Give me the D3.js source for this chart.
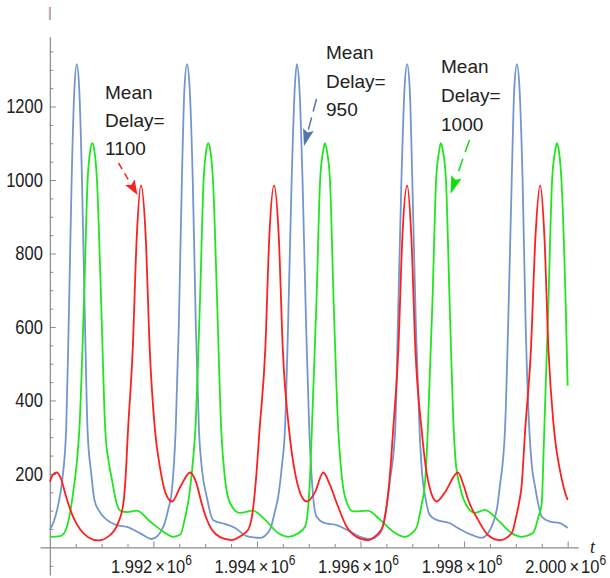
<!DOCTYPE html>
<html>
<head>
<meta charset="utf-8">
<script src="https://cdn.jsdelivr.net/npm/d3@7"></script>
<style>
    body { margin: 0; background: #fff; }
    svg { display: block; font-family: "Liberation Sans", Arial, sans-serif; }
</style>
</head>
<body>
<div id="chart"></div>
<script>
// values: [t, value]
const delay950 = [
    [1990000,48],[1990080,72],[1990160,115],[1990240,184],[1990315,320],[1990363,600],[1990421,1000],[1990475,1250],[1990520,1315],
    [1990567,1250],[1990621,1000],[1990680,600],[1990728,320],[1990800,200],[1990860,130],[1990940,102],[1991100,75],[1991290,61],
    [1991490,56],[1991740,39],[1991970,23],
    [1992190,56],[1992280,100],[1992360,160],[1992430,320],[1992490,600],[1992550,1000],[1992600,1250],[1992650,1315],[1992700,1250],
    [1992760,1000],[1992820,600],[1992880,320],[1992940,210],[1993030,138],[1993150,75],[1993380,64],[1993580,53],[1993800,31],[1994060,26],
    [1994250,48],[1994350,100],[1994410,138],[1994480,220],[1994540,320],[1994600,600],[1994670,1000],[1994730,1250],[1994770,1315],
    [1994820,1250],[1994880,1000],[1994950,600],[1995010,320],[1995060,184],[1995150,84],[1995310,66],[1995540,61],[1995800,43],
    [1995990,29],[1996180,23],
    [1996380,39],[1996490,100],[1996570,184],[1996670,320],[1996720,600],[1996790,1000],[1996850,1250],[1996900,1315],[1996950,1250],
    [1997000,1000],[1997070,600],[1997140,320],[1997190,200],[1997250,138],[1997340,88],[1997470,75],[1997730,66],[1997880,53],
    [1998150,34],[1998340,26],
    [1998560,66],[1998640,110],[1998690,166],[1998790,320],[1998850,600],[1998920,1000],[1998970,1250],[1999020,1315],[1999070,1250],
    [1999130,1000],[1999190,600],[1999260,320],[1999310,220],[1999370,166],[1999500,84],[1999660,70],[1999850,66],[2000000,53]
];

const delay1000 = [
    [1990000,29],[1990200,31],[1990300,45],[1990390,94],[1990460,160],[1990520,230],[1990570,320],[1990660,673],[1990730,1000],
    [1990780,1080],[1990820,1100],[1990860,1080],[1990910,1000],[1990990,673],[1991070,320],[1991140,230],[1991200,184],[1991280,125],
    [1991360,100],[1991490,96],[1991680,100],[1991940,70],[1992190,43],[1992380,29],
    [1992520,35],[1992610,80],[1992690,140],[1992760,230],[1992810,320],[1992900,673],[1992970,1000],[1993020,1080],[1993060,1100],
    [1993100,1080],[1993150,1000],[1993230,673],[1993310,320],[1993380,190],[1993480,121],[1993670,94],[1993920,100],[1994160,75],
    [1994410,39],[1994600,29],
    [1994790,38],[1994930,57],[1995010,150],[1995060,320],[1995150,673],[1995220,1000],[1995280,1080],[1995310,1100],[1995350,1080],
    [1995410,1000],[1995480,673],[1995570,320],[1995620,220],[1995700,138],[1995860,98],[1996140,100],[1996380,75],[1996630,43],
    [1996860,29],
    [1996990,38],[1997090,57],[1997170,110],[1997250,184],[1997300,320],[1997390,673],[1997460,1000],[1997520,1080],[1997550,1100],
    [1997590,1080],[1997650,1000],[1997720,673],[1997800,320],[1997840,230],[1997920,166],[1998080,107],[1998210,94],[1998400,102],
    [1998650,75],[1998920,39],[1999110,29],
    [1999330,39],[1999430,80],[1999500,121],[1999540,280],[1999630,673],[1999700,1000],[1999760,1080],[1999790,1100],[1999830,1080],
    [1999880,1000],[1999960,673],[2000000,440]
];

const delay1100 = [
    [1990000,179],[1990060,198],[1990140,204],[1990220,185],[1990310,140],[1990450,83],[1990580,50],[1990740,28],[1990940,19],
    [1991130,30],[1991320,67],[1991420,120],[1991460,184],[1991510,320],[1991600,537],[1991680,850],[1991760,985],[1991850,850],
    [1991930,537],[1992030,320],[1992130,215],[1992230,150],[1992360,125],[1992520,165],[1992710,204],[1992830,175],[1992930,121],
    [1993020,80],[1993130,48],[1993290,28],[1993510,20],[1993670,30],[1993830,48],[1993920,100],[1993980,184],[1994050,320],
    [1994160,537],[1994240,850],[1994330,985],[1994420,850],[1994500,537],[1994620,320],[1994740,200],[1994830,150],[1994960,125],
    [1995120,150],[1995280,204],[1995410,170],[1995540,121],[1995730,57],[1995910,30],[1996140,20],[1996300,32],[1996430,57],
    [1996510,120],[1996560,184],[1996630,320],[1996730,537],[1996810,850],[1996900,985],[1996980,850],[1997060,537],[1997180,320],
    [1997280,200],[1997360,150],[1997470,125],[1997630,150],[1997880,204],[1998000,165],[1998080,129],[1998270,75],[1998460,34],
    [1998690,20],[1998920,39],[1999000,80],[1999060,120],[1999110,166],[1999180,320],[1999290,537],[1999380,850],[1999470,985],
    [1999550,850],[1999630,537],[1999720,347],[1999770,280],[1999850,211],[1999930,160],[2000000,129]
];

const yMajorTicks = [200, 400, 600, 800, 1000, 1200];
const yMinorTicks = [-50, 50, 100, 150, 250, 300, 350, 450, 500, 550, 650, 700, 750, 850, 900, 950, 1050, 1100, 1150, 1250, 1300, 1350];
const xMajorTicks = [1992000, 1994000, 1996000, 1998000, 2000000];
const xMajorLabels = ["1.992", "1.994", "1.996", "1.998", "2.000"];
const xMinorTicks = [1990500, 1991000, 1991500, 1992500, 1993000, 1993500, 1994500, 1995000, 1995500,
    1996500, 1997000, 1997500, 1998500, 1999000, 1999500];
const annotationText = [["Mean", "Delay=", "1100"], ["Mean", "Delay=", "950"], ["Mean", "Delay=", "1000"]];

class DelayChart {
    constructor(parentElement) {
        this.parentElement = parentElement;
        this.series = [
            {values: delay950, color: "#7596cd"},
            {values: delay1000, color: "#1fe61f"},
            {values: delay1100, color: "#ff1f1f"}
        ];
        this.initVis();
    }

    initVis() {
        let vis = this;
        vis.width = 610;
        vis.height = 578;

        vis.svg = d3.select("#" + vis.parentElement).append("svg")
            .attr("width", vis.width)
            .attr("height", vis.height);

        // axis ranges run a bit past the data, like the original
        vis.x = d3.scaleLinear().domain([1989810, 2000200]).range([40, 578]);
        vis.y = d3.scaleLinear().domain([-75, 1390]).range([575, 36.7]);

        let axisColor = "#8a8a8a";

        // y axis
        vis.svg.append("g")
            .attr("transform", `translate(${vis.x(1990000)},0)`)
            .call(d3.axisLeft(vis.y).tickValues(yMinorTicks).tickSize(-3.5).tickFormat(""))
            .call(g => g.select(".domain").remove())
            .call(g => g.selectAll("line").attr("stroke", axisColor));

        vis.yAxis = vis.svg.append("g")
            .attr("transform", `translate(${vis.x(1990000)},0)`)
            .call(d3.axisLeft(vis.y).tickValues(yMajorTicks).tickFormat(d3.format("d"))
                .tickSize(-6).tickSizeOuter(0).tickPadding(7));
        vis.yAxis.select(".domain").attr("stroke", axisColor).attr("stroke-width", 1.2);
        vis.yAxis.selectAll("line").attr("stroke", axisColor);
        vis.yAxis.selectAll("text")
            .attr("font-family", "Liberation Sans, Arial, sans-serif")
            .attr("font-size", 16.5)
            .attr("fill", "#222")
            .attr("transform", "scale(1,1.17)");

        // x axis
        vis.svg.append("g")
            .attr("transform", `translate(0,${vis.y(0)})`)
            .call(d3.axisBottom(vis.x).tickValues(xMinorTicks).tickSize(-3.5).tickFormat(""))
            .call(g => g.select(".domain").remove())
            .call(g => g.selectAll("line").attr("stroke", axisColor));

        vis.xAxis = vis.svg.append("g")
            .attr("transform", `translate(0,${vis.y(0)})`)
            .call(d3.axisBottom(vis.x).tickValues(xMajorTicks).tickSize(-6).tickSizeOuter(0).tickFormat(""));
        vis.xAxis.select(".domain").attr("stroke", axisColor).attr("stroke-width", 1.2);
        vis.xAxis.selectAll("line").attr("stroke", axisColor);

        let xLabels = vis.svg.append("g").selectAll("g")
            .data(xMajorTicks)
            .enter().append("g")
            .attr("transform", d => `translate(${vis.x(d) - 2},${vis.y(0) + 25.5}) scale(1,1.15)`)
            .append("text")
            .attr("text-anchor", "middle")
            .attr("font-size", 16.5)
            .attr("fill", "#222");
        xLabels.append("tspan").text((d, i) => xMajorLabels[i]);
        xLabels.append("tspan").attr("dx", 3).text("\u00d7");
        xLabels.append("tspan").attr("dx", 2).text("10");
        xLabels.append("tspan").attr("dy", -7).attr("font-size", 12).text("6");

        vis.svg.append("text")
            .attr("x", 590)
            .attr("y", 553)
            .attr("font-size", 18)
            .attr("font-style", "italic")
            .attr("font-family", "Liberation Serif, serif")
            .attr("fill", "#222")
            .text("t");

        // little mark sitting above the y axis
        vis.svg.append("line").attr("x1", 49.3).attr("x2", 49.3).attr("y1", 7).attr("y2", 20)
            .attr("stroke", "#e0a070").attr("stroke-width", 1);
        vis.svg.append("line").attr("x1", 50.4).attr("x2", 50.4).attr("y1", 7).attr("y2", 20)
            .attr("stroke", "#8fa0d0").attr("stroke-width", 1);

        vis.line = d3.line()
            .x(d => vis.x(d[0]))
            .y(d => vis.y(d[1]))
            .curve(d3.curveMonotoneX);

        vis.svg.selectAll(".series")
            .data(vis.series)
            .enter().append("path")
            .attr("class", "series")
            .attr("fill", "none")
            .attr("stroke", d => d.color)
            .attr("stroke-width", 1.8)
            .attr("d", d => vis.line(d.values));

        vis.drawAnnotations();
    }

    drawAnnotations() {
        let vis = this;
        let spots = [
            {x: 105, y: 99, gap: 28, color: "#ff2020", from: [118.5, 163], tip: [137.5, 195], len: 15, wid: 11, dash: "7,5"},
            {x: 326, y: 59, gap: 28.5, color: "#5574ac", from: [316.5, 99], tip: [304, 146], len: 17, wid: 11, dash: "13,6"},
            {x: 441, y: 73, gap: 29, color: "#10e010", from: [469.5, 140], tip: [450.5, 194], len: 18, wid: 11, dash: "13,7"}
        ];

        spots.forEach((s, i) => {
            let txt = vis.svg.append("text")
                .attr("font-size", 19)
                .attr("fill", "#222");
            annotationText[i].forEach((line, j) => {
                txt.append("tspan").attr("x", s.x).attr("y", s.y + j * s.gap).text(line);
            });

            let dx = s.tip[0] - s.from[0], dy = s.tip[1] - s.from[1];
            let L = Math.sqrt(dx * dx + dy * dy);
            let ux = dx / L, uy = dy / L;
            let bx = s.tip[0] - ux * s.len, by = s.tip[1] - uy * s.len;

            vis.svg.append("line")
                .attr("x1", s.from[0]).attr("y1", s.from[1])
                .attr("x2", bx).attr("y2", by)
                .attr("stroke", s.color)
                .attr("stroke-width", 1.5)
                .attr("stroke-dasharray", s.dash);

            let half = s.wid / 2;
            vis.svg.append("path")
                .attr("d", `M${s.tip[0]},${s.tip[1]} L${bx - uy * half},${by + ux * half} L${bx + ux * 3},${by + uy * 3} L${bx + uy * half},${by - ux * half} Z`)
                .attr("fill", s.color);
        });
    }
}

new DelayChart("chart");
</script>
</body>
</html>
